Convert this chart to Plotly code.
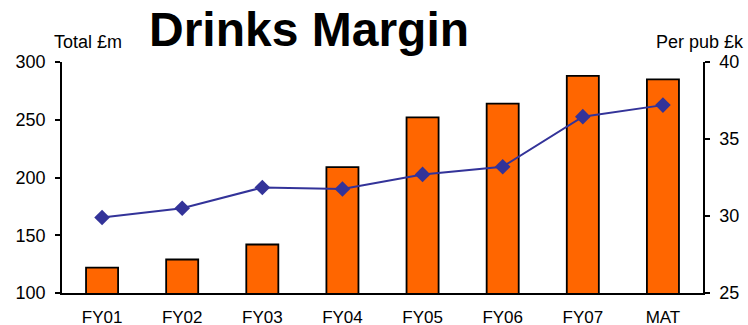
import plotly.graph_objects as go

# Drinks margin: total (bars, left axis) and per-pub figure (line, right axis)
periods = ["FY01", "FY02", "FY03", "FY04", "FY05", "FY06", "FY07", "MAT"]
total_m = [122, 129, 142, 209, 252, 264, 288, 285]
per_pub_k = [29.9, 30.5, 31.85, 31.75, 32.7, 33.2, 36.45, 37.2]

left_ticks = [100, 150, 200, 250, 300]
right_ticks = [25, 30, 35, 40]

axis_font = dict(family="Liberation Sans", size=18, color="black")
x_font = dict(family="Liberation Sans", size=17, color="black")

fig = go.Figure()
fig.add_trace(go.Bar(
    x=periods, y=total_m, yaxis="y",
    marker=dict(color="#FF6600", line=dict(color="black", width=1.8)),
    width=0.4,
))
fig.add_trace(go.Scatter(
    x=periods, y=per_pub_k, yaxis="y2", mode="lines+markers",
    line=dict(color="#333399", width=2),
    marker=dict(symbol="diamond", size=12, color="#333399"),
))

fig.update_layout(
    width=748, height=325,
    margin=dict(l=62, r=45, t=62, b=32),
    paper_bgcolor="white", plot_bgcolor="white",
    showlegend=False,
    xaxis=dict(
        showgrid=False, showline=True, linecolor="black", linewidth=1.5,
        ticks="", tickfont=x_font, ticklabelstandoff=8, automargin=False,
    ),
    yaxis=dict(
        range=[100, 300], tickvals=left_ticks, showgrid=False, zeroline=False,
        showline=True, linecolor="black", linewidth=1.5,
        ticks="outside", ticklen=5, tickwidth=1.5, tickcolor="black",
        tickfont=axis_font, ticklabelstandoff=6, automargin=False,
    ),
    yaxis2=dict(
        range=[25, 40], tickvals=right_ticks, overlaying="y", side="right",
        showgrid=False, zeroline=False,
        showline=True, linecolor="black", linewidth=1.5,
        ticks="outside", ticklen=5, tickwidth=1.5, tickcolor="black",
        tickfont=axis_font, ticklabelstandoff=6, automargin=False,
    ),
    annotations=[
        dict(text="<b>Drinks Margin</b>", xref="paper", yref="paper",
             x=(309 - 62) / 641, y=1.0, xanchor="center", yanchor="bottom",
             yshift=4, showarrow=False,
             font=dict(family="Liberation Sans", size=48, color="black")),
        dict(text="Total £m", xref="paper", yref="paper",
             x=(124 - 62) / 641, y=1.0, xanchor="right", yanchor="bottom",
             yshift=8, showarrow=False, font=axis_font),
        dict(text="Per pub £k", xref="paper", yref="paper",
             x=(746 - 62) / 641, y=1.0, xanchor="right", yanchor="bottom",
             yshift=8, showarrow=False, font=axis_font),
    ],
)

fig.write_html("out.html")
